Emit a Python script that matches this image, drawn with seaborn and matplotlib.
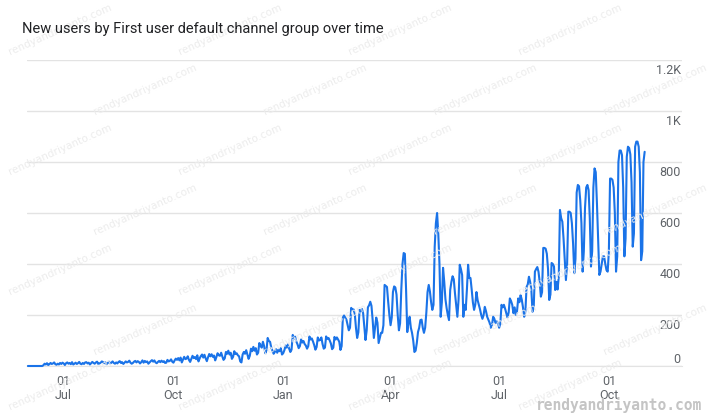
import numpy as np
import pandas as pd
import matplotlib
matplotlib.use("Agg")
import matplotlib.pyplot as plt
import matplotlib.dates as mdates
import seaborn as sns

# daily new users, one row per week (Wed .. Tue), starting Wed 2022-06-01
users_jun_sep_2022 = [
    [0, 0, 0, 0, 0, 0, 0],
    [0, 0, 0, 0, 0, 0, 3],
    [9, 6, 11, 4, 7, 12, 8],
    [10, 14, 7, 5, 9, 6, 12],
    [8, 13, 10, 4, 11, 14, 9],
    [12, 7, 15, 6, 9, 13, 8],
    [11, 16, 9, 7, 12, 8, 14],
    [15, 10, 13, 6, 11, 16, 12],
    [9, 14, 17, 8, 10, 13, 18],
    [15, 11, 14, 7, 12, 17, 10],
    [13, 18, 12, 9, 14, 10, 16],
    [19, 12, 15, 8, 13, 18, 14],
    [16, 21, 13, 9, 12, 17, 20],
    [14, 19, 16, 10, 15, 22, 13],
    [20, 15, 18, 9, 14, 19, 23],
    [17, 22, 14, 11, 16, 20, 15],
    [21, 16, 19, 12, 13, 24, 18],
    [20, 26, 17, 13, 22, 29, 24],
]
users_oct_dec_2022 = [
    [31, 22, 33, 14, 25, 36, 27],
    [29, 38, 24, 16, 28, 40, 31],
    [35, 27, 42, 18, 30, 39, 45],
    [33, 44, 30, 19, 34, 47, 38],
    [46, 36, 41, 22, 35, 50, 42],
    [40, 52, 37, 24, 30, 55, 48],
    [60, 45, 52, 28, 36, 58, 47],
    [50, 42, 38, 18, 14, 45, 55],
    [48, 62, 45, 28, 40, 68, 58],
    [75, 60, 70, 45, 52, 90, 80],
    [72, 95, 78, 50, 62, 110, 98],
    [95, 72, 60, 48, 55, 66, 52],
    [64, 58, 70, 45, 50, 62, 80],
]
users_jan_mar_2023 = [
    [72, 85, 68, 55, 64, 122, 108],
    [115, 96, 85, 70, 78, 104, 92],
    [98, 86, 80, 68, 78, 116, 104],
    [108, 96, 82, 64, 74, 112, 100],
    [102, 112, 86, 68, 72, 116, 106],
    [110, 100, 88, 66, 72, 114, 104],
    [112, 104, 95, 63, 78, 190, 198],
    [190, 182, 160, 140, 150, 228, 220],
    [222, 205, 150, 110, 132, 220, 215],
    [224, 207, 152, 102, 140, 230, 238],
    [252, 236, 180, 110, 150, 190, 170],
    [90, 110, 130, 130, 160, 318, 314],
    [310, 252, 200, 160, 190, 290, 312],
]
users_apr_jun_2023 = [
    [308, 280, 200, 140, 168, 300, 400],
    [443, 440, 300, 133, 170, 193, 150],
    [130, 100, 55, 60, 90, 133, 150],
    [180, 182, 150, 130, 150, 210, 290],
    [318, 292, 250, 220, 240, 467, 560],
    [600, 520, 400, 193, 250, 385, 330],
    [262, 227, 200, 180, 298, 330, 352],
    [340, 285, 240, 193, 260, 397, 380],
    [357, 193, 240, 220, 300, 397, 345],
    [345, 300, 250, 220, 240, 290, 258],
    [240, 222, 200, 185, 200, 232, 215],
    [193, 182, 170, 150, 160, 193, 185],
    [168, 175, 170, 150, 165, 240, 230],
]
users_jul_oct_2023 = [
    [240, 225, 207, 190, 210, 265, 255],
    [240, 207, 230, 200, 215, 265, 250],
    [278, 260, 230, 193, 213, 310, 320],
    [350, 330, 300, 213, 230, 370, 380],
    [388, 370, 330, 272, 290, 463, 463],
    [460, 440, 380, 259, 280, 404, 400],
    [390, 298, 330, 300, 350, 612, 580],
    [566, 500, 420, 337, 400, 605, 605],
    [600, 560, 480, 364, 420, 680, 710],
    [705, 650, 560, 370, 450, 620, 700],
    [710, 690, 580, 390, 450, 700, 775],
    [760, 638, 500, 357, 370, 400, 430],
    [430, 400, 376, 370, 450, 735, 735],
    [730, 700, 600, 370, 430, 800, 845],
    [845, 827, 700, 430, 500, 820, 860],
    [855, 830, 720, 468, 520, 860, 880],
    [880, 860, 760, 415, 450, 800, 840],
]

y_ticks = [0, 200, 400, 600, 800, 1000, 1200]
y_tick_labels = ["0", "200", "400", "600", "800", "1K", "1.2K"]

weeks = (users_jun_sep_2022 + users_oct_dec_2022 + users_jan_mar_2023
         + users_apr_jun_2023 + users_jul_oct_2023)
values = [v for week in weeks for v in week]
df = pd.DataFrame({
    "date": pd.date_range("2022-06-01", periods=len(values), freq="D"),
    "new_users": values,
})

sns.set_style("white")
plt.rcParams["font.family"] = ["Roboto", "DejaVu Sans"]

W, H = 711, 413
fig = plt.figure(figsize=(W / 100, H / 100), dpi=100)
ax = fig.add_axes([27 / W, 1 - 366 / H, (682 - 27) / W, (366 - 60) / H])

grid_c = "#e3e3e3"
text_c = "#5f6368"

# faint diagonal watermark tiles over the whole picture
for row, yy in enumerate([30, 90, 150, 210, 270, 330, 385]):
    off = 0 if row % 2 == 0 else 85
    for xx in range(60 + off, 660, 170):
        fig.text(xx / W, 1 - yy / H, "rendyandriyanto.com", rotation=24,
                 fontsize=7.5, color="#ececec", ha="center", va="center",
                 family="DejaVu Sans", zorder=0)

sns.lineplot(data=df, x="date", y="new_users", ax=ax, color="#1a73e8",
             linewidth=1.5, clip_on=False, zorder=5)

start = df["date"].iloc[0]
ax.set_xlim(start - pd.Timedelta(days=0.75), start + pd.Timedelta(days=548.3))
ax.set_ylim(0, 1200)
ax.set_yticks(y_ticks)
ax.set_yticklabels([])
ax.tick_params(axis="y", length=0)
ax.grid(axis="y", color=grid_c, linewidth=1)
ax.set_axisbelow(True)
ax.patch.set_alpha(0)

for s in ["top", "right", "left"]:
    ax.spines[s].set_visible(False)
ax.spines["bottom"].set_color(grid_c)

ax.xaxis.set_major_locator(mdates.MonthLocator(bymonth=[1, 4, 7, 10]))
ax.xaxis.set_major_formatter(mdates.DateFormatter("%d\n%b"))
ax.tick_params(axis="x", length=5, color=grid_c, labelcolor=text_c,
               labelsize=9, pad=1.5)
for lbl in ax.get_xticklabels():
    lbl.set_linespacing(1.05)
ax.set_xlabel("")
ax.set_ylabel("")

tr = ax.get_yaxis_transform()
for v, t in zip(y_ticks, y_tick_labels):
    if v == 0:
        ax.text(0.998, v, t, transform=tr, ha="right", va="bottom",
                fontsize=9, color=text_c)
    else:
        ax.text(0.998, v - 14, t, transform=tr, ha="right", va="top",
                fontsize=9, color=text_c)

fig.text(22 / W, 1 - 29 / H, "New users by First user default channel group over time",
         fontsize=10.5, color="#202124", ha="left", va="center")
fig.text(702 / W, 1 - 410 / H, "rendyandriyanto.com", fontsize=10.5,
         fontweight="bold", color="#c4c4c4", ha="right", va="baseline",
         family="DejaVu Sans Mono")

fig.savefig("out.png", dpi=100)
